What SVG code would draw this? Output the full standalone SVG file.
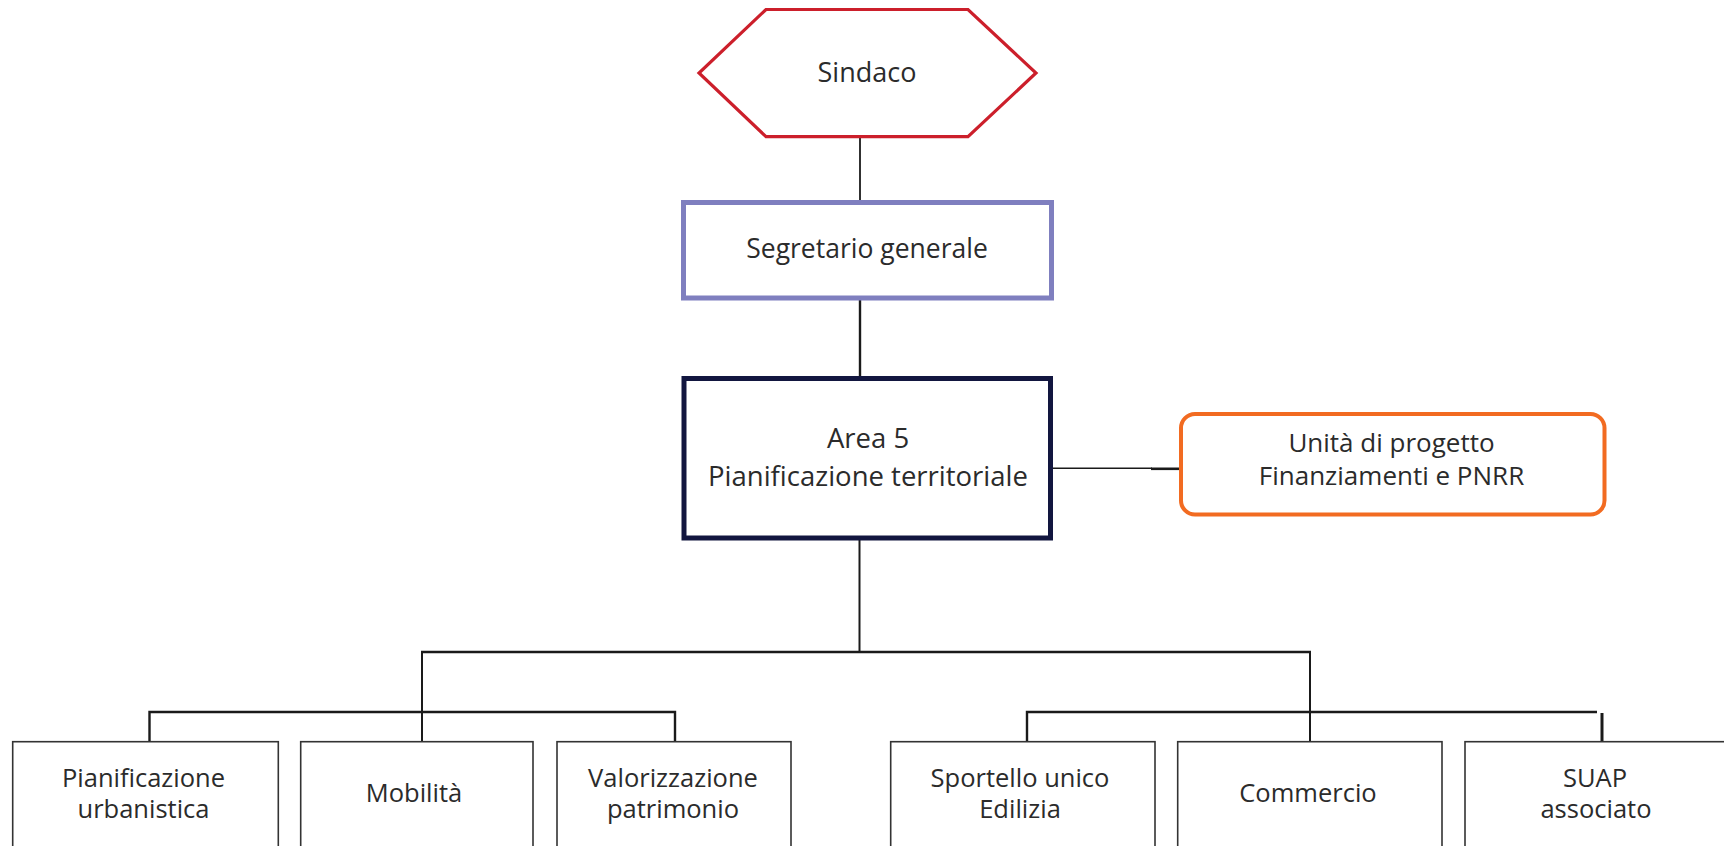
<svg xmlns="http://www.w3.org/2000/svg" width="1724" height="846" viewBox="0 0 1724 846">
<style>
  .t { font-family: "Open Sans", "Liberation Sans", sans-serif; font-size: 26px; fill: #2b2b2b; text-anchor: middle; }
  .tb { font-family: "Open Sans", "Liberation Sans", sans-serif; font-size: 25.5px; fill: #2b2b2b; text-anchor: middle; }
  .unit { fill: #ffffff; stroke: #333333; stroke-width: 1.6; }
  .conn { stroke: #1a1a1a; fill: none; stroke-linecap: butt; }
</style>
<rect x="0" y="0" width="1724" height="846" fill="#ffffff"/>

<g id="connectors">
  <line class="conn" x1="860" y1="137" x2="860" y2="201" stroke-width="1.8"/>
  <line class="conn" x1="860" y1="299" x2="860" y2="377" stroke-width="2.4"/>
  <line class="conn" x1="859.5" y1="540" x2="859.5" y2="652" stroke-width="2"/>
  <line class="conn" x1="1052" y1="468.3" x2="1152" y2="468.3" stroke-width="1.6"/>
  <line class="conn" x1="1151" y1="468.8" x2="1179" y2="468.8" stroke="#444" stroke-width="2.6"/>
  <line class="conn" x1="421" y1="652" x2="1311" y2="652" stroke-width="2.6"/>
  <line class="conn" x1="422" y1="651" x2="422" y2="742" stroke-width="2"/>
  <line class="conn" x1="1310" y1="651" x2="1310" y2="742" stroke-width="2"/>
  <polyline class="conn" points="149.5,742 149.5,712 675,712 675,742" stroke-width="2.4"/>
  <polyline class="conn" points="1027,742 1027,712 1597,712" stroke-width="2.4"/>
  <line class="conn" x1="1602" y1="713" x2="1602" y2="742" stroke-width="3"/>
</g>

<g id="sindaco">
  <polygon points="766,9.5 968,9.5 1036,73 968,136.7 766,136.7 699,73" fill="#ffffff" stroke="#cc1f2b" stroke-width="3.2" stroke-linejoin="miter"/>
  <text class="t" x="867" y="82" style="font-size:27px">Sindaco</text>
</g>

<g id="segretario">
  <rect x="683.5" y="202.5" width="368" height="95.5" fill="#ffffff" stroke="#7f7fbf" stroke-width="5"/>
  <text class="t" x="867" y="258" style="font-size:26.5px">Segretario generale</text>
</g>

<g id="area5">
  <rect x="684" y="378.5" width="366.5" height="159.5" fill="#ffffff" stroke="#12163f" stroke-width="5"/>
  <text class="t" x="868" y="448" style="font-size:27.5px">Area 5</text>
  <text class="t" x="868" y="486" style="font-size:27.5px">Pianificazione territoriale</text>
</g>

<g id="unita">
  <rect x="1181" y="414" width="423.5" height="100.5" rx="14" ry="14" fill="#ffffff" stroke="#f26b21" stroke-width="4"/>
  <text class="t" x="1391.5" y="451.5">Unità di progetto</text>
  <text class="t" x="1391.5" y="485">Finanziamenti e PNRR</text>
</g>

<g id="pianificazione-urbanistica">
  <rect class="unit" x="12.7" y="741.7" width="265.6" height="130"/>
  <text class="tb" x="143.5" y="786.7">Pianificazione</text>
  <text class="tb" x="143.5" y="818.3">urbanistica</text>
</g>

<g id="mobilita">
  <rect class="unit" x="300.7" y="741.7" width="232.3" height="130"/>
  <text class="tb" x="414" y="802.3">Mobilità</text>
</g>

<g id="valorizzazione-patrimonio">
  <rect class="unit" x="557" y="741.7" width="234" height="130"/>
  <text class="tb" x="673" y="786.7">Valorizzazione</text>
  <text class="tb" x="673" y="818.3">patrimonio</text>
</g>

<g id="sportello-unico-edilizia">
  <rect class="unit" x="890.7" y="741.7" width="264.3" height="130"/>
  <text class="tb" x="1020" y="786.7">Sportello unico</text>
  <text class="tb" x="1020" y="818.3">Edilizia</text>
</g>

<g id="commercio">
  <rect class="unit" x="1177.7" y="741.7" width="264.3" height="130"/>
  <text class="tb" x="1308" y="802.3">Commercio</text>
</g>

<g id="suap-associato">
  <rect class="unit" x="1465" y="741.7" width="265" height="130"/>
  <text class="tb" x="1595" y="786.7">SUAP</text>
  <text class="tb" x="1596" y="818.3">associato</text>
</g>
</svg>
